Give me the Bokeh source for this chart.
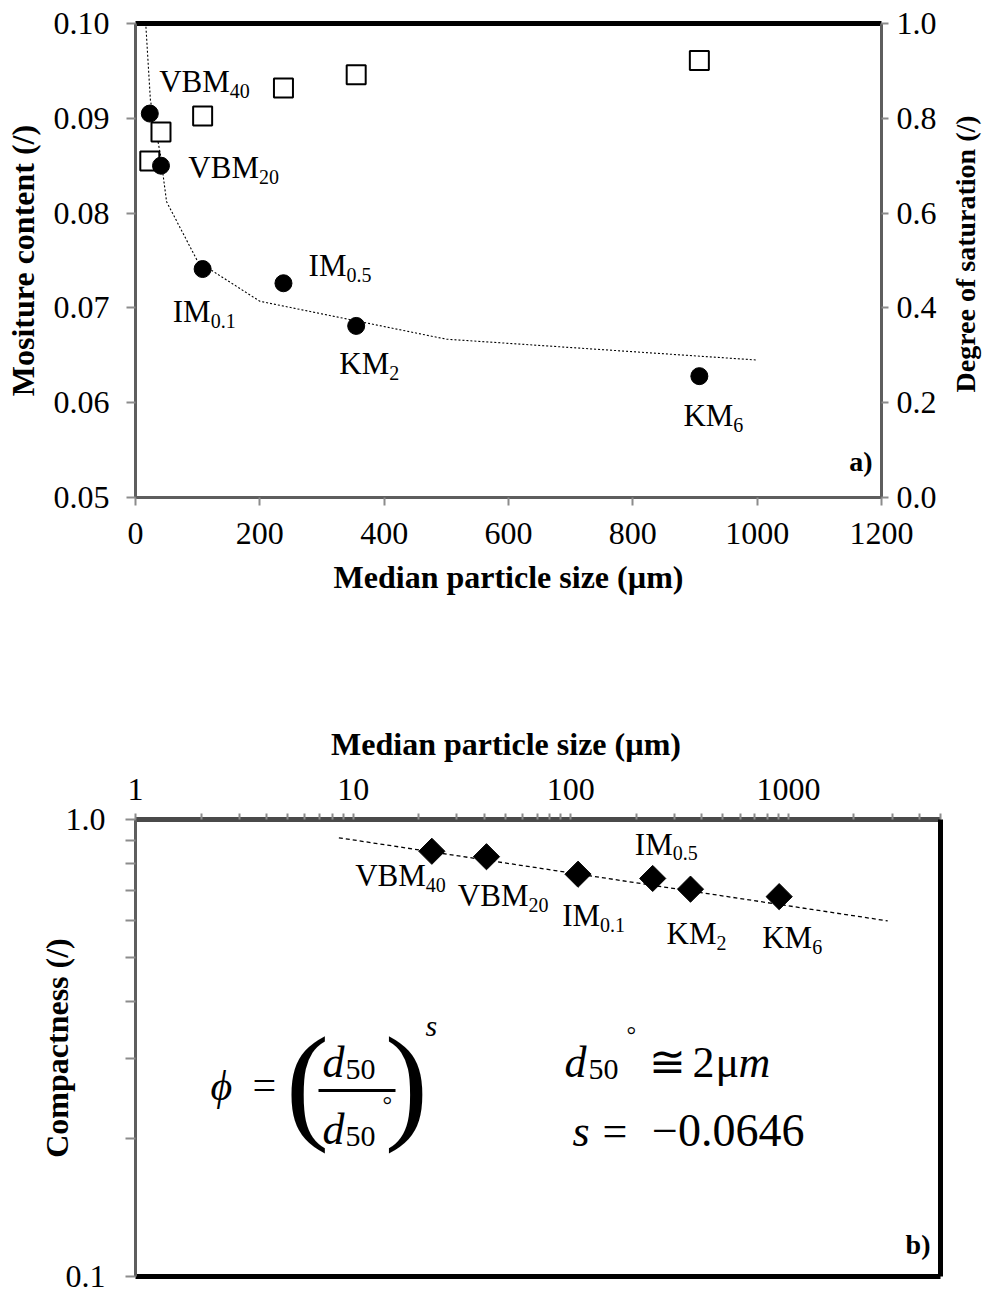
import math
from bokeh.plotting import figure
from bokeh.models import Range1d, LinearAxis, LogAxis, FixedTicker, ColumnDataSource
from bokeh.core.properties import value
from bokeh.embed import file_html
from bokeh.resources import INLINE

# ---------------- data ----------------
sample_main = ["VBM", "VBM", "IM", "IM", "KM", "KM"]
sample_sub = ["40", "20", "0.1", "0.5", "2", "6"]
d50_um = [23, 41, 108, 238, 355, 907]
moisture = [0.0905, 0.0850, 0.0741, 0.0726, 0.0681, 0.0628]
saturation = [0.710, 0.771, 0.805, 0.864, 0.892, 0.922]
compactness = [0.852, 0.829, 0.759, 0.743, 0.704, 0.678]

moist_fit_d50 = [16, 24, 40, 50, 100, 200, 500, 1000]
moist_fit = [0.1005, 0.0919, 0.0862, 0.0812, 0.0749, 0.0707, 0.0667, 0.0645]

compact_fit_d50 = [8.6, 2860]
compact_fit = [0.912, 0.600]

x1_ticks = [0, 200, 400, 600, 800, 1000, 1200]
y1_ticks = [0.05, 0.06, 0.07, 0.08, 0.09, 0.10]
y1_labels = ["0.05", "0.06", "0.07", "0.08", "0.09", "0.10"]
y1r_ticks = [0.0, 0.2, 0.4, 0.6, 0.8, 1.0]
y1r_labels = ["0.0", "0.2", "0.4", "0.6", "0.8", "1.0"]
x2_ticks = [1, 10, 100, 1000]
x2_labels = ["1", "10", "100", "1000"]
x2_minor = [2, 3, 4, 5, 6, 7, 8, 9, 20, 30, 40, 50, 60, 70, 80, 90,
            200, 300, 400, 500, 600, 700, 800, 900, 2000, 3000, 4000, 5000]
y2_ticks = [0.1, 1.0]
y2_labels = ["0.1", "1.0"]
y2_minor = [0.2, 0.3, 0.4, 0.5, 0.6, 0.7, 0.8, 0.9]

# label placement (pixel offsets from each point: junction of name/subscript, baseline)
top_dx = [80, 98, 8, 63, 33, 34]
top_dy = [-20, 14, 55, -5, 50, 52]
bot_dx = [-6, 42, 22, 20, 26, 33]
bot_dy = [37, 51, 54, -22, 57, 53]

FONT = "Liberation Serif"
TICK = "#8c8c8c"
AXLINE = "#5e5e5e"
MAIN_FS = 31
SUB_FS = 20
RIGHT_TITLE = "Degree of saturation (/)"


def adj(dy, fs):
    # correct the rendered baseline so that `dy` is the visual baseline
    return dy - (0.3 * fs + 3)


def style_axis(ax, tick_out, standoff, title_standoff, line_color=AXLINE, line_width=3):
    ax.axis_line_color = line_color
    ax.axis_line_width = line_width
    ax.major_tick_line_color = TICK
    ax.major_tick_line_width = 2
    ax.major_tick_in = 0
    ax.major_tick_out = tick_out
    ax.minor_tick_line_color = None
    ax.major_label_text_font = FONT
    ax.major_label_text_font_size = "32px"
    ax.major_label_text_color = "black"
    ax.major_label_standoff = standoff
    ax.axis_label_text_font = FONT
    ax.axis_label_text_font_style = "bold"
    ax.axis_label_text_font_size = "32px"
    ax.axis_label_text_color = "black"
    ax.axis_label_standoff = title_standoff


def border(p, side, width, log=False):
    cls = LogAxis if log else LinearAxis
    ax = cls(ticker=FixedTicker(ticks=[]), axis_line_color="black", axis_line_width=width,
             major_tick_line_color=None, minor_tick_line_color=None,
             major_label_text_font_size="0px")
    p.add_layout(ax, side)


# ---------------- figure a) ----------------
p1 = figure(width=999, height=640, x_range=Range1d(0, 1200), y_range=Range1d(0.05, 0.10),
            output_backend="svg", toolbar_location=None,
            min_border_left=135, min_border_right=117, min_border_top=23, min_border_bottom=143)
p1.outline_line_color = None
p1.grid.visible = False
p1.background_fill_color = "white"
p1.border_fill_color = "white"
p1.extra_y_ranges = {"sat": Range1d(0, 1)}

xa = p1.xaxis[0]
xa.ticker = FixedTicker(ticks=x1_ticks)
xa.axis_label = "Median particle size (µm)"
style_axis(xa, 8, 17, 12)

ya = p1.yaxis[0]
ya.ticker = FixedTicker(ticks=y1_ticks)
ya.major_label_overrides = dict(zip(y1_ticks, y1_labels))
ya.axis_label = "Mositure content (/)"
style_axis(ya, 9, 17, 10)

yr = LinearAxis(y_range_name="sat", ticker=FixedTicker(ticks=y1r_ticks))
yr.major_label_overrides = dict(zip(y1r_ticks, y1r_labels))
style_axis(yr, 7, 8, 26)
yr.axis_label_text_font_size = "28px"
if "axis_label_align" in yr.properties() and "axis_label_orientation" in yr.properties():
    # read bottom-to-top, starting from the frame bottom; leading no-break spaces lift
    # the start of the words to where the reference has them
    yr.axis_label = "\u00a0" * 15 + RIGHT_TITLE
    yr.axis_label_orientation = math.pi / 2
    yr.axis_label_align = "start"
else:
    yr.axis_label = RIGHT_TITLE
p1.add_layout(yr, "right")
border(p1, "above", 5)

src1 = ColumnDataSource(dict(x=d50_um, m=moisture, s=saturation, main=sample_main,
                             sub=sample_sub, dx=top_dx,
                             dy=[adj(d, MAIN_FS) for d in top_dy],
                             dys=[adj(d + 6, SUB_FS) for d in top_dy]))

p1.line(moist_fit_d50, moist_fit, line_color="black", line_width=1.1, line_dash="2 2")
p1.scatter(x="x", y="s", source=src1, y_range_name="sat", marker="square", size=19,
           fill_color="white", line_color="black", line_width=2)
p1.scatter(x="x", y="m", source=src1, marker="circle", size=17,
           fill_color="black", line_color="black")
p1.text(x="x", y="m", text="main", source=src1, x_offset="dx", y_offset="dy",
        text_align="right", text_baseline="alphabetic", text_font=value(FONT),
        text_font_size=f"{MAIN_FS}px", text_color="black")
p1.text(x="x", y="m", text="sub", source=src1, x_offset="dx", y_offset="dys",
        text_align="left", text_baseline="alphabetic", text_font=value(FONT),
        text_font_size=f"{SUB_FS}px", text_color="black")
p1.text(x=[1200], y=[0.05], text=["a)"], x_offset=-9, y_offset=adj(-25, 28), text_align="right",
        text_baseline="alphabetic", text_font=value(FONT), text_font_style="bold",
        text_font_size="28px", text_color="black")

# ---------------- figure b) ----------------
B_TOP, B_BOTTOM, B_LEFT, B_RIGHT = 179, 17, 135, 59
p2 = figure(width=999, height=653, x_axis_type="log", y_axis_type="log",
            x_range=Range1d(1, 5000), y_range=Range1d(0.1, 1.0), x_axis_location="above",
            output_backend="svg", toolbar_location=None,
            min_border_left=B_LEFT, min_border_right=B_RIGHT,
            min_border_top=B_TOP, min_border_bottom=B_BOTTOM)
p2.outline_line_color = None
p2.grid.visible = False
p2.background_fill_color = "white"
p2.border_fill_color = "white"

xb = p2.xaxis[0]
xb.ticker = FixedTicker(ticks=x2_ticks, minor_ticks=x2_minor)
xb.major_label_overrides = dict(zip(x2_ticks, x2_labels))
xb.axis_label = "Median particle size (µm)" + "\u00a0" * 8
style_axis(xb, 6, 14, 14, line_color="#4a4a4a", line_width=5)
xb.minor_tick_line_color = TICK
xb.minor_tick_line_width = 2
xb.minor_tick_in = 0
xb.minor_tick_out = 6

yb = p2.yaxis[0]
yb.ticker = FixedTicker(ticks=y2_ticks, minor_ticks=y2_minor)
yb.major_label_overrides = dict(zip(y2_ticks, y2_labels))
yb.axis_label = "Compactness (/)"
style_axis(yb, 10, 20, -12)
yb.minor_tick_line_color = TICK
yb.minor_tick_line_width = 2
yb.minor_tick_in = 0
yb.minor_tick_out = 10
border(p2, "right", 5, log=True)
border(p2, "below", 5, log=True)

src2 = ColumnDataSource(dict(x=d50_um, c=compactness, main=sample_main, sub=sample_sub,
                             dx=bot_dx,
                             dy=[adj(d, MAIN_FS) for d in bot_dy],
                             dys=[adj(d + 6, SUB_FS) for d in bot_dy]))
p2.line(compact_fit_d50, compact_fit, line_color="black", line_width=1.3, line_dash="4 3")
p2.scatter(x="x", y="c", source=src2, marker="square", angle=math.pi / 4, size=18.5,
           fill_color="black", line_color="black")
p2.text(x="x", y="c", text="main", source=src2, x_offset="dx", y_offset="dy",
        text_align="right", text_baseline="alphabetic", text_font=value(FONT),
        text_font_size=f"{MAIN_FS}px", text_color="black")
p2.text(x="x", y="c", text="sub", source=src2, x_offset="dx", y_offset="dys",
        text_align="left", text_baseline="alphabetic", text_font=value(FONT),
        text_font_size=f"{SUB_FS}px", text_color="black")
p2.text(x=[5000], y=[0.1], text=["b)"], x_offset=-10, y_offset=adj(-21, 28), text_align="right",
        text_baseline="alphabetic", text_font=value(FONT), text_font_style="bold",
        text_font_size="28px", text_color="black")

# formula pieces: (text, dx, baseline dy, size, style, align) from the frame's top-left corner
formula = [
    ("ϕ", 75, 282, 42, "italic", "left"),
    ("=", 117, 281, 42, "normal", "left"),
    ("(", 172, 304, 130, "normal", "center"),
    (")", 271, 304, 130, "normal", "center"),
    ("d", 187, 259, 44, "italic", "left"),
    ("50", 210, 262, 30, "normal", "left"),
    ("d", 187, 326, 44, "italic", "left"),
    ("50", 210, 329, 30, "normal", "left"),
    ("°", 247, 296, 24, "normal", "left"),
    ("s", 290, 218, 30, "italic", "left"),
    ("d", 429, 259, 44, "italic", "left"),
    ("50", 453, 262, 30, "normal", "left"),
    ("°", 491, 226, 24, "normal", "left"),
    ("≅", 513, 259, 44, "normal", "left"),
    ("2", 557, 259, 44, "normal", "left"),
    ("μ", 580, 259, 44, "normal", "left"),
    ("m", 603, 259, 44, "italic", "left"),
    ("s", 437, 328, 44, "italic", "left"),
    ("=", 467, 328, 44, "normal", "left"),
    ("−0.0646", 669, 328, 46, "normal", "right"),
]
for t, dx, dy, fs, st, al in formula:
    p2.text(x=[1], y=[1.0], text=[t], x_offset=dx, y_offset=adj(dy, fs), text_align=al,
            text_baseline="alphabetic", text_font=value(FONT), text_font_style=st,
            text_font_size=f"{fs}px", text_color="black")

# fraction bar, placed in frame pixels converted to data space
FW = 999 - B_LEFT - B_RIGHT
FH = 653 - B_TOP - B_BOTTOM


def frame2data(fx, fy):
    return 10 ** (fx / FW * math.log10(5000)), 10 ** (-fy / FH)


bx0, by0 = frame2data(183, 271)
bx1, by1 = frame2data(260, 271)
p2.segment(x0=[bx0], y0=[by0], x1=[bx1], y1=[by1], line_color="black", line_width=3)

open("out.html", "w").write(file_html([p1, p2], INLINE))
